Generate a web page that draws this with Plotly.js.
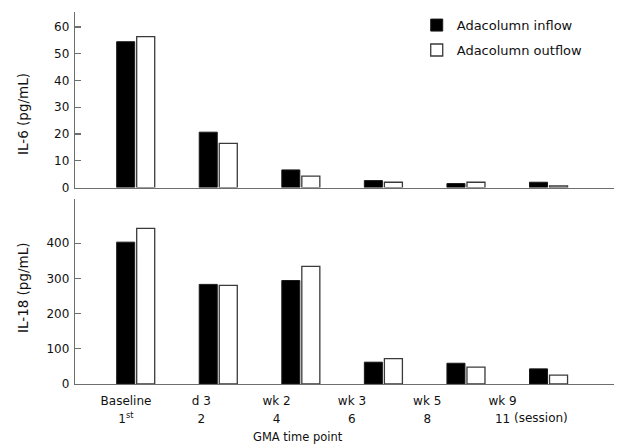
<!DOCTYPE html>
<html>
<head>
<meta charset="utf-8">
<script src="https://cdn.plot.ly/plotly-3.0.1.min.js"></script>
<style>html,body{margin:0;padding:0;background:#fff;}#chart{width:638px;height:446px;}</style>
</head>
<body>
<div id="chart"></div>
<script>
// Data
var categories = ["Baseline", "d 3", "wk 2", "wk 3", "wk 5", "wk 9"];
var sessions = ["1<sup>st</sup>", "2", "4", "6", "8", "11"];
var il6Inflow = [54.5, 20.7, 6.6, 2.6, 1.5, 2.0];
var il6Outflow = [56.4, 16.5, 4.3, 2.0, 2.0, 0.6];
var il18Inflow = [403, 283, 294, 62, 59, 43];
var il18Outflow = [442, 280, 334, 72, 48, 25];
var il6Ticks = [0, 10, 20, 30, 40, 50, 60];
var il18Ticks = [0, 100, 200, 300, 400];
var seriesNames = ["Adacolumn inflow", "Adacolumn outflow"];

var FONT = "DejaVu Sans, Verdana, sans-serif";
var AX = "#6e6e6e";

var inflowStyle = {color: "#000000", line: {color: "#1a1a1a", width: 1}};
var outflowStyle = {color: "#ffffff", line: {color: "#3a3a3a", width: 1.3}};

var idx = categories.map(function (c, i) { return i; });
var empty = categories.map(function () { return null; });

var traces = [
  {type: "bar", name: seriesNames[0], x: categories, y: il6Inflow, xaxis: "x", yaxis: "y",
   marker: inflowStyle, legendgroup: "a", hoverinfo: "skip"},
  {type: "bar", name: seriesNames[1], x: categories, y: il6Outflow, xaxis: "x", yaxis: "y",
   marker: outflowStyle, legendgroup: "b", hoverinfo: "skip"},
  {type: "bar", name: seriesNames[0], x: categories, y: il18Inflow, xaxis: "x2", yaxis: "y2",
   marker: inflowStyle, showlegend: false, hoverinfo: "skip"},
  {type: "bar", name: seriesNames[1], x: categories, y: il18Outflow, xaxis: "x2", yaxis: "y2",
   marker: outflowStyle, showlegend: false, hoverinfo: "skip"},
  // carriers for the two rows of time-point labels (no visible marks)
  {type: "scatter", mode: "markers", x: idx, y: empty, xaxis: "x3", yaxis: "y2",
   showlegend: false, hoverinfo: "skip", marker: {opacity: 0}},
  {type: "scatter", mode: "markers", x: idx, y: empty, xaxis: "x4", yaxis: "y2",
   showlegend: false, hoverinfo: "skip", marker: {opacity: 0}}
];

var catRange = [-0.735, 5.793];
var baseX = {
  type: "category", range: catRange, showline: true, linecolor: AX, linewidth: 1.2,
  ticks: "", showticklabels: false, showgrid: false, zeroline: false, fixedrange: true
};
var baseY = {
  showline: true, linecolor: AX, linewidth: 1.2, ticks: "inside", ticklen: 6, tickcolor: AX,
  tickwidth: 1.2, showgrid: false, zeroline: false, tickfont: {family: FONT, size: 12, color: "#111"},
  ticklabelstandoff: 2, tickmode: "array"
};
var labelAxis = {
  overlaying: "x2", anchor: "y2", side: "bottom", type: "linear", range: [-0.677, 6.48],
  tickmode: "array", tickvals: idx, ticks: "", showline: false, showgrid: false, zeroline: false,
  tickfont: {family: FONT, size: 12, color: "#111"}, fixedrange: true
};

var layout = {
  width: 638, height: 446,
  margin: {l: 75, r: 24, t: 10, b: 61.7},
  paper_bgcolor: "#ffffff", plot_bgcolor: "#ffffff",
  font: {family: FONT, color: "#111"},
  barmode: "group", bargap: 0.515, bargroupgap: 0.1,
  showlegend: true,
  legend: {x: 0.634, y: 1.005, xanchor: "left", yanchor: "top", bgcolor: "rgba(0,0,0,0)",
           font: {family: FONT, size: 13, color: "#111"}, traceorder: "grouped", tracegroupgap: 5},
  xaxis: Object.assign({}, baseX, {anchor: "y", domain: [0, 1]}),
  yaxis: Object.assign({}, baseY, {anchor: "x", domain: [0.528, 1], range: [0, 65.6], tickvals: il6Ticks}),
  xaxis2: Object.assign({}, baseX, {anchor: "y2", domain: [0, 1]}),
  yaxis2: Object.assign({}, baseY, {anchor: "x2", domain: [0, 0.4977], range: [0, 526], tickvals: il18Ticks}),
  xaxis3: Object.assign({}, labelAxis, {ticktext: categories, ticklabelstandoff: 8}),
  xaxis4: Object.assign({}, labelAxis, {ticktext: sessions, ticklabelstandoff: 26}),
  annotations: [
    {text: "IL-6 (pg/mL)", textangle: -90, xref: "paper", yref: "paper", x: -0.0965, y: 0.726,
     showarrow: false, font: {family: FONT, size: 13.5, color: "#111"}, xanchor: "center", yanchor: "middle"},
    {text: "IL-18 (pg/mL)", textangle: -90, xref: "paper", yref: "paper", x: -0.0965, y: 0.2607,
     showarrow: false, font: {family: FONT, size: 13.5, color: "#111"}, xanchor: "center", yanchor: "middle"},
    {text: "GMA time point", xref: "paper", yref: "paper", x: 0.4137, y: -0.142,
     showarrow: false, font: {family: FONT, size: 11.5, color: "#111"}, xanchor: "center", yanchor: "middle"},
    {text: "(session)", xref: "paper", yref: "paper", x: (512 - 75) / 539, y: -0.0905,
     showarrow: false, font: {family: FONT, size: 12, color: "#111"}, xanchor: "left", yanchor: "middle"}
  ]
};

Plotly.newPlot("chart", traces, layout, {displayModeBar: false, staticPlot: true});
</script>
</body>
</html>
